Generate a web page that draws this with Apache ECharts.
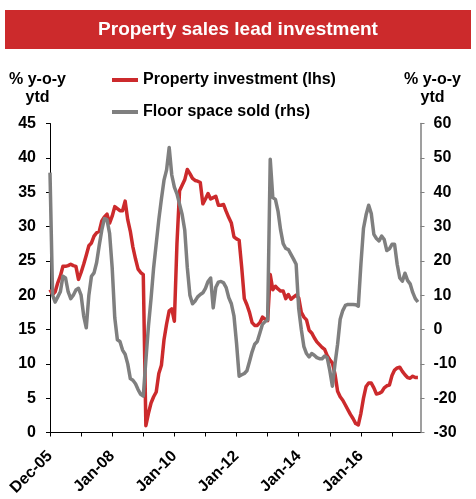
<!DOCTYPE html>
<html>
<head>
<meta charset="utf-8">
<script src="https://cdn.jsdelivr.net/npm/echarts@6/dist/echarts.min.js"></script>
<style>html,body{margin:0;padding:0;background:#fff;}#c{width:476px;height:499px;}</style>
</head>
<body>
<div id="c"></div>
<script>
// Category months: Dec-05, Feb-06..Dec-06, then Jan..Dec 2007-2017
const monthNames = ['Jan','Feb','Mar','Apr','May','Jun','Jul','Aug','Sep','Oct','Nov','Dec'];
const categories = ['Dec-05'];
for (let m = 1; m < 12; m++) categories.push(monthNames[m] + '-06');
for (let y = 7; y <= 17; y++) {
  for (let m = 0; m < 12; m++) categories.push(monthNames[m] + '-' + (y < 10 ? '0' + y : '' + y));
}

const seriesNames = ['Property investment (lhs)', 'Floor space sold (rhs)'];

// Property investment, % y-o-y ytd (left axis)
const investment = [
  20.8, 20.1, 20.5, 21.8, 22.8, 24.2, 24.2, 24.3, 24.5, 24.3,
  24.2, 22.3, 23.3, 24.5, 25.8, 27.2, 27.6, 28.6, 29.1, 29.3,
  30.8, 31.4, 31.8, 30.5, 31.5, 32.9, 32.6, 32.3, 32.3, 33.7,
  31.0, 29.3, 27.0, 25.3, 23.8, 23.3, 23.0, 1.0, 2.8, 4.3,
  5.2, 5.9, 8.6, 9.8, 13.5, 15.8, 17.7, 18.0, 16.2, 27.5,
  35.2, 36.0, 36.8, 38.3, 37.7, 37.0, 36.7, 36.6, 36.4, 33.3,
  34.0, 34.8, 34.0, 34.2, 34.4, 33.1, 33.1, 33.2, 32.2, 31.3,
  30.5, 28.5, 28.2, 28.0, 24.0, 19.5, 18.6, 17.5, 16.0, 15.6,
  15.6, 16.0, 16.8, 16.5, 16.3, 23.0, 20.8, 21.3, 20.9, 20.6,
  20.6, 19.5, 20.1, 19.4, 19.7, 20.0, 19.6, 17.5, 16.8, 16.4,
  14.9, 14.5, 13.8, 13.2, 12.8, 12.4, 12.1, 11.2, 10.6, 10.1,
  8.5, 6.0, 5.2, 4.7, 4.0, 3.3, 2.6, 2.0, 1.3, 1.1,
  2.8, 5.0, 6.7, 7.2, 7.2, 6.5, 5.6, 5.7, 5.9, 6.5,
  6.8, 6.9, 8.3, 9.1, 9.4, 9.5, 8.9, 8.4, 8.0, 7.9,
  8.2, 8.0, 8.0
];

// Floor space sold, % y-o-y ytd (right axis)
const floorSpace = [
  45.7, 10, 8, 9.5, 11, 15.5, 15, 11, 9, 10,
  11.5, 12, 10, 4, 0.5, 10, 15.5, 16.5, 19.5, 24.5,
  29, 32.3, 32.0, 28, 18, 3.4, -3, -3.5, -6, -7.2,
  -10, -14.3, -14.8, -15.8, -17.5, -18.9, -19.4, -9, 1, 9,
  18, 25, 32, 38, 43.5, 46.5, 53.0, 45, 41.5, 39.5,
  36.5, 33.5, 29, 18, 10, 7.5, 8.3, 9.5, 10.2, 10.7,
  12, 14, 15, 6.3, 12.3, 13.8, 14, 13.6, 12.2, 9.3,
  7.5, 4, -4, -13.6, -13.2, -12.8, -12, -9.3, -6.5, -4.3,
  -3.5, -1, 1.5, 2.3, 2.8, 49.6, 38.4, 37.9, 34.5, 29,
  25, 23.6, 23.3, 21.9, 20.5, 19, 6, 0, -5, -7,
  -8, -7, -7.5, -8.2, -8.5, -8.5, -7.7, -8.2, -12, -16.5,
  -10, -4.3, 3, 5.5, 7, 7.3, 7.3, 7.3, 7.2, 6.8,
  19, 29.5, 33.4, 36.2, 33.8, 27.7, 26.5, 25.8, 27.2, 26.2,
  23, 23.5, 24.8, 24.8, 19, 15, 14.1, 16.4, 14.3, 13.3,
  10.8, 9, 8
];

const RED = '#cc2a2c';
const GREY = '#7f7f7f';
const FONT = 'Liberation Sans';

const chart = echarts.init(document.getElementById('c'), null, {renderer: 'canvas'});
chart.setOption({
  animation: false,
  backgroundColor: '#fff',
  textStyle: {fontFamily: FONT},
  title: {
    text: 'Property sales lead investment',
    left: 'center',
    top: 20,
    padding: 0,
    textStyle: {color: '#fff', fontFamily: FONT, fontWeight: 'bold', fontSize: 19}
  },
  graphic: [{
    type: 'rect', z: 0,
    shape: {x: 5, y: 10, width: 466, height: 39},
    style: {fill: RED}
  }],
  legend: [{
    data: [seriesNames[0]],
    left: 112, top: 72, padding: 0,
    icon: 'rect', itemWidth: 26, itemHeight: 4,
    textStyle: {color: '#000', fontFamily: FONT, fontWeight: 'bold', fontSize: 16}
  }, {
    data: [seriesNames[1]],
    left: 112, top: 104, padding: 0,
    icon: 'rect', itemWidth: 26, itemHeight: 4,
    textStyle: {color: '#000', fontFamily: FONT, fontWeight: 'bold', fontSize: 16}
  }],
  grid: {left: 50, right: 55.5, top: 123.5, bottom: 66.5, containLabel: false},
  xAxis: {
    type: 'category',
    data: categories,
    boundaryGap: false,
    axisLine: {lineStyle: {color: '#000', width: 1}},
    axisTick: {
      length: 4, lineStyle: {color: '#000'},
      interval: function (i) { return i % 12 === 0; }
    },
    axisLabel: {
      rotate: 45, margin: 21,
      color: '#000', fontFamily: FONT, fontWeight: 'bold', fontSize: 16,
      interval: function (i) { return i % 24 === 0; }
    },
    splitLine: {show: false}
  },
  yAxis: [{
    type: 'value', min: 0, max: 45, interval: 5,
    position: 'left',
    name: '% y-o-y\nytd', nameLocation: 'end', nameGap: 17,
    nameTextStyle: {color: '#000', fontFamily: FONT, fontWeight: 'bold', fontSize: 16,
      align: 'center', lineHeight: 18, padding: [0, 25, 0, 0]},
    axisLine: {show: true, lineStyle: {color: '#000', width: 1}},
    axisTick: {show: true, length: 4, inside: false, lineStyle: {color: '#000'}},
    axisLabel: {color: '#000', fontFamily: FONT, fontWeight: 'bold', fontSize: 16, margin: 14},
    splitLine: {show: false}
  }, {
    type: 'value', min: -30, max: 60, interval: 10,
    position: 'right',
    name: '% y-o-y\nytd', nameLocation: 'end', nameGap: 17,
    nameTextStyle: {color: '#000', fontFamily: FONT, fontWeight: 'bold', fontSize: 16,
      align: 'center', lineHeight: 18, padding: [0, 0, 0, 24]},
    axisLine: {show: true, lineStyle: {color: GREY, width: 1.5}},
    axisTick: {show: true, length: 4, inside: false, lineStyle: {color: GREY}},
    axisLabel: {color: '#000', fontFamily: FONT, fontWeight: 'bold', fontSize: 16, margin: 13},
    splitLine: {show: false}
  }],
  series: [{
    name: seriesNames[0],
    type: 'line', yAxisIndex: 0,
    data: investment,
    showSymbol: false, symbol: 'none',
    itemStyle: {color: RED},
    lineStyle: {color: RED, width: 3.5, join: 'round'}
  }, {
    name: seriesNames[1],
    type: 'line', yAxisIndex: 1,
    data: floorSpace,
    showSymbol: false, symbol: 'none',
    itemStyle: {color: GREY},
    lineStyle: {color: GREY, width: 3.5, join: 'round'}
  }]
});
</script>
</body>
</html>
